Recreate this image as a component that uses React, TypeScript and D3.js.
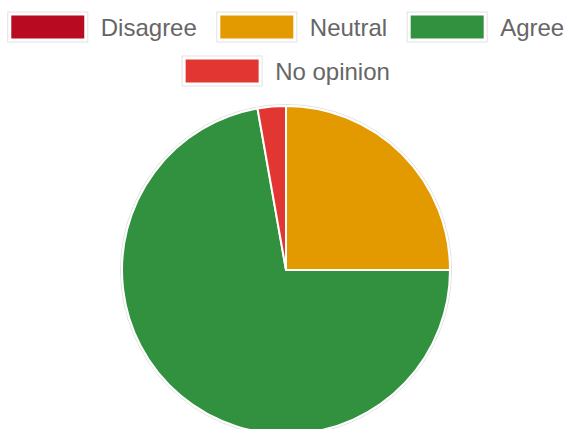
import React, { useMemo } from "react";
import * as d3 from "d3";

const categories = ["Disagree", "Neutral", "Agree", "No opinion"];
const values = [0, 9, 26, 1];
const colors = ["#B80B21", "#E39A00", "#31913F", "#E23632"];

const W = 566;
const H = 429;
const FONT = "24px 'Liberation Sans', Arial, Helvetica, sans-serif";

function measure(text: string): number {
  const c = document.createElement("canvas");
  const ctx = c.getContext("2d");
  if (!ctx) return text.length * 12;
  ctx.font = FONT;
  return ctx.measureText(text).width;
}

export default function App() {
  const boxW = 78;
  const boxH = 24;
  const gapBoxText = 14;
  const itemGap = 21;
  const rows = [[0, 1, 2], [3]];
  const rowY = [27, 71];

  const legend = useMemo(() => {
    const items: { i: number; x: number; y: number }[] = [];
    rows.forEach((row, r) => {
      const widths = row.map((i) => boxW + gapBoxText + measure(categories[i]));
      const total = d3.sum(widths) + itemGap * (row.length - 1);
      let x = 286.5 - total / 2;
      row.forEach((i, k) => {
        items.push({ i, x, y: rowY[r] });
        x += widths[k] + itemGap;
      });
    });
    return items;
  }, []);

  const cx = 286;
  const cy = 270;
  const radius = 164;
  const pie = d3.pie<number>().sort(null).value((d) => d);
  const arcs = pie(values);
  const arc = d3.arc<d3.PieArcDatum<number>>().innerRadius(0).outerRadius(radius);

  return (
    <svg
      width={W}
      height={H}
      style={{ position: "fixed", left: 0, top: 0, display: "block", background: "#fff" }}
    >
      {legend.map(({ i, x, y }) => (
        <g key={categories[i]}>
          <rect x={x - 1} y={y - boxH / 2 - 3} width={boxW + 2} height={boxH + 6} fill="none" stroke="#e2e2e2" strokeWidth={1} />
          <rect x={x + 1.5} y={y - boxH / 2 - 0.5} width={boxW - 3} height={boxH + 1} fill={colors[i]} stroke="#fff" strokeWidth={2} />
          <text
            x={x + boxW + gapBoxText}
            y={y}
            dominantBaseline="central"
            fill="#666"
            style={{ font: FONT }}
          >
            {categories[i]}
          </text>
        </g>
      ))}
      <g transform={`translate(${cx},${cy})`}>
        <circle r={radius + 1.5} fill="none" stroke="#e0e0e0" strokeWidth={1} />
        {arcs.map((a, k) =>
          a.value > 0 ? (
            <path key={categories[k]} d={arc(a) || ""} fill={colors[k]} stroke="#fff" strokeWidth={2} />
          ) : null
        )}
      </g>
    </svg>
  );
}
